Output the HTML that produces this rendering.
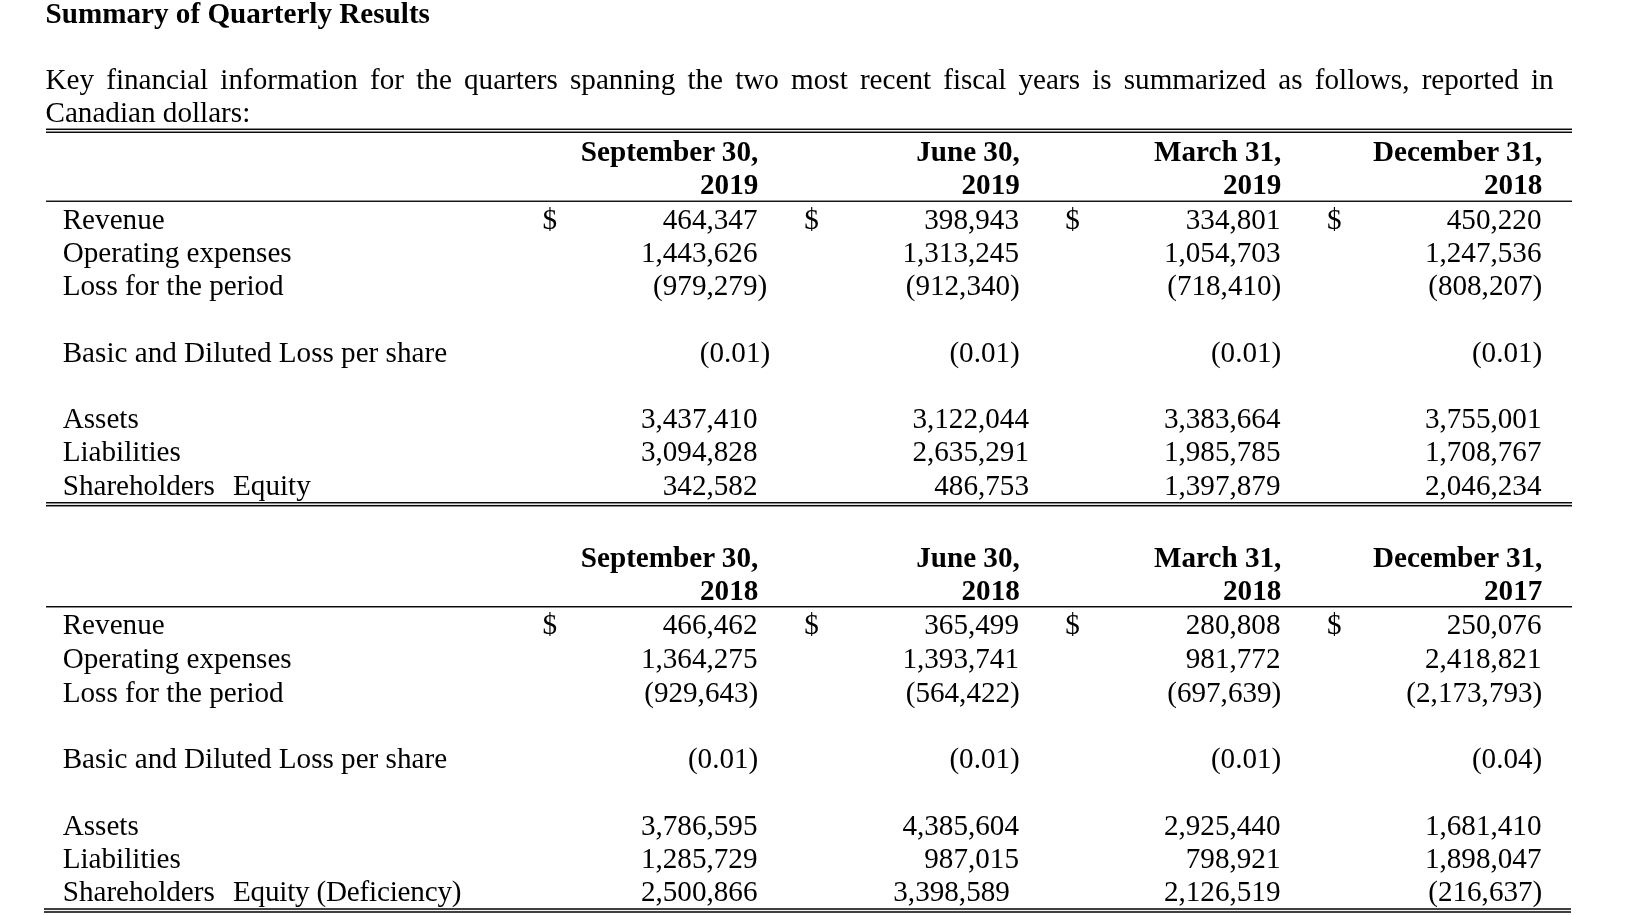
<!DOCTYPE html>
<html lang="en"><head><meta charset="utf-8"><title>Summary of Quarterly Results</title>
<style>
html,body{margin:0;padding:0;background:#fff;}
body{width:1627px;height:915px;position:relative;overflow:hidden;will-change:transform;font-family:"Liberation Serif",serif;color:#000;}
.t{position:absolute;font-size:29.15px;line-height:34px;height:34px;white-space:nowrap;}
.b{font-weight:bold;}
.j{white-space:normal;text-align:justify;text-align-last:justify;}
.ap{display:inline-block;width:18.2px;}
.cd{letter-spacing:-0.21px;}
.ln{position:absolute;height:1px;}
</style></head><body>
<!-- heading -->
<div class="t b" style="left:45.50px;top:-4px;">Summary of Quarterly Results</div>
<div class="t j" style="left:45.5px;top:62px;width:1508.10px">Key financial information for the quarters spanning the two most recent fiscal years is summarized as follows, reported in</div>
<div class="t" style="left:45.50px;top:95px;">Canadian dollars:</div>
<div class="ln" style="left:46.00px;top:128px;width:1525.50px;background:#8a8a8a"></div>
<div class="ln" style="left:46.00px;top:129px;width:1525.50px;background:#0a0a0a"></div>
<div class="ln" style="left:46.00px;top:130px;width:1525.50px;background:#eeeeee"></div>
<div class="ln" style="left:46.00px;top:131px;width:1525.50px;background:#8a8a8a"></div>
<div class="ln" style="left:46.00px;top:132px;width:1525.50px;background:#0a0a0a"></div>
<!-- 2019: header -->
<div class="t b" style="right:868.70px;top:134px;">September 30,</div>
<div class="t b" style="right:868.70px;top:167px;">2019</div>
<div class="t b" style="right:607.20px;top:134px;">June 30,</div>
<div class="t b" style="right:607.20px;top:167px;">2019</div>
<div class="t b" style="right:345.70px;top:134px;">March 31,</div>
<div class="t b" style="right:345.70px;top:167px;">2019</div>
<div class="t b" style="right:84.70px;top:134px;">December 31,</div>
<div class="t b" style="right:84.70px;top:167px;">2018</div>
<div class="ln" style="left:46.00px;top:200px;width:1525.50px;background:#909090"></div>
<div class="ln" style="left:46.00px;top:201px;width:1525.50px;background:#161616"></div>
<!-- 2019: Revenue -->
<div class="t" style="left:62.70px;top:202px;">Revenue</div>
<div class="t" style="left:542.60px;top:202px;">$</div>
<div class="t" style="left:804.30px;top:202px;">$</div>
<div class="t" style="left:1065.30px;top:202px;">$</div>
<div class="t" style="left:1326.90px;top:202px;">$</div>
<div class="t" style="right:869.50px;top:202px;">464,347</div>
<div class="t" style="right:608.00px;top:202px;">398,943</div>
<div class="t" style="right:346.50px;top:202px;">334,801</div>
<div class="t" style="right:85.50px;top:202px;">450,220</div>
<!-- 2019: Operating expenses -->
<div class="t" style="left:62.70px;top:235px;">Operating expenses</div>
<div class="t" style="right:869.50px;top:235px;">1,443,626</div>
<div class="t" style="right:608.00px;top:235px;">1,313,245</div>
<div class="t" style="right:346.50px;top:235px;">1,054,703</div>
<div class="t" style="right:85.50px;top:235px;">1,247,536</div>
<!-- 2019: Loss for the period -->
<div class="t" style="left:62.70px;top:268px;">Loss for the period</div>
<div class="t" style="right:859.80px;top:268px;">(979,279)</div>
<div class="t" style="right:607.20px;top:268px;">(912,340)</div>
<div class="t" style="right:345.70px;top:268px;">(718,410)</div>
<div class="t" style="right:84.70px;top:268px;">(808,207)</div>
<!-- 2019: Basic and Diluted Loss per share -->
<div class="t" style="left:62.70px;top:335px;">Basic and Diluted Loss per share</div>
<div class="t" style="right:856.80px;top:335px;">(0.01)</div>
<div class="t" style="right:607.20px;top:335px;">(0.01)</div>
<div class="t" style="right:345.70px;top:335px;">(0.01)</div>
<div class="t" style="right:84.70px;top:335px;">(0.01)</div>
<!-- 2019: Assets -->
<div class="t" style="left:62.70px;top:401px;">Assets</div>
<div class="t" style="right:869.50px;top:401px;">3,437,410</div>
<div class="t" style="right:598.00px;top:401px;">3,122,044</div>
<div class="t" style="right:346.50px;top:401px;">3,383,664</div>
<div class="t" style="right:85.50px;top:401px;">3,755,001</div>
<!-- 2019: Liabilities -->
<div class="t" style="left:62.70px;top:434px;">Liabilities</div>
<div class="t" style="right:869.50px;top:434px;">3,094,828</div>
<div class="t" style="right:598.00px;top:434px;">2,635,291</div>
<div class="t" style="right:346.50px;top:434px;">1,985,785</div>
<div class="t" style="right:85.50px;top:434px;">1,708,767</div>
<!-- 2019: Shareholders -->
<div class="t" style="left:62.70px;top:468px;">Shareholders<span class="ap"></span>Equity</div>
<div class="t" style="right:869.50px;top:468px;">342,582</div>
<div class="t" style="right:598.00px;top:468px;">486,753</div>
<div class="t" style="right:346.50px;top:468px;">1,397,879</div>
<div class="t" style="right:85.50px;top:468px;">2,046,234</div>
<div class="ln" style="left:46.00px;top:502px;width:1525.50px;background:#0a0a0a"></div>
<div class="ln" style="left:46.00px;top:503px;width:1525.50px;background:#8a8a8a"></div>
<div class="ln" style="left:46.00px;top:504px;width:1525.50px;background:#e8e8e8"></div>
<div class="ln" style="left:46.00px;top:505px;width:1525.50px;background:#0a0a0a"></div>
<div class="ln" style="left:46.00px;top:506px;width:1525.50px;background:#8a8a8a"></div>
<!-- 2018: header -->
<div class="t b" style="right:868.70px;top:540px;">September 30,</div>
<div class="t b" style="right:868.70px;top:573px;">2018</div>
<div class="t b" style="right:607.20px;top:540px;">June 30,</div>
<div class="t b" style="right:607.20px;top:573px;">2018</div>
<div class="t b" style="right:345.70px;top:540px;">March 31,</div>
<div class="t b" style="right:345.70px;top:573px;">2018</div>
<div class="t b" style="right:84.70px;top:540px;">December 31,</div>
<div class="t b" style="right:84.70px;top:573px;">2017</div>
<div class="ln" style="left:46.00px;top:606px;width:1525.50px;background:#0a0a0a"></div>
<div class="ln" style="left:46.00px;top:607px;width:1525.50px;background:#8a8a8a"></div>
<!-- 2018: Revenue -->
<div class="t" style="left:62.70px;top:607px;">Revenue</div>
<div class="t" style="left:542.60px;top:607px;">$</div>
<div class="t" style="left:804.30px;top:607px;">$</div>
<div class="t" style="left:1065.30px;top:607px;">$</div>
<div class="t" style="left:1326.90px;top:607px;">$</div>
<div class="t" style="right:869.50px;top:607px;">466,462</div>
<div class="t" style="right:608.00px;top:607px;">365,499</div>
<div class="t" style="right:346.50px;top:607px;">280,808</div>
<div class="t" style="right:85.50px;top:607px;">250,076</div>
<!-- 2018: Operating expenses -->
<div class="t" style="left:62.70px;top:641px;">Operating expenses</div>
<div class="t" style="right:869.50px;top:641px;">1,364,275</div>
<div class="t" style="right:608.00px;top:641px;">1,393,741</div>
<div class="t" style="right:346.50px;top:641px;">981,772</div>
<div class="t" style="right:85.50px;top:641px;">2,418,821</div>
<!-- 2018: Loss for the period -->
<div class="t" style="left:62.70px;top:675px;">Loss for the period</div>
<div class="t" style="right:868.70px;top:675px;">(929,643)</div>
<div class="t" style="right:607.20px;top:675px;">(564,422)</div>
<div class="t" style="right:345.70px;top:675px;">(697,639)</div>
<div class="t" style="right:84.70px;top:675px;">(2,173,793)</div>
<!-- 2018: Basic and Diluted Loss per share -->
<div class="t" style="left:62.70px;top:741px;">Basic and Diluted Loss per share</div>
<div class="t" style="right:868.70px;top:741px;">(0.01)</div>
<div class="t" style="right:607.20px;top:741px;">(0.01)</div>
<div class="t" style="right:345.70px;top:741px;">(0.01)</div>
<div class="t" style="right:84.70px;top:741px;">(0.04)</div>
<!-- 2018: Assets -->
<div class="t" style="left:62.70px;top:808px;">Assets</div>
<div class="t" style="right:869.50px;top:808px;">3,786,595</div>
<div class="t" style="right:608.00px;top:808px;">4,385,604</div>
<div class="t" style="right:346.50px;top:808px;">2,925,440</div>
<div class="t" style="right:85.50px;top:808px;">1,681,410</div>
<!-- 2018: Liabilities -->
<div class="t" style="left:62.70px;top:841px;">Liabilities</div>
<div class="t" style="right:869.50px;top:841px;">1,285,729</div>
<div class="t" style="right:608.00px;top:841px;">987,015</div>
<div class="t" style="right:346.50px;top:841px;">798,921</div>
<div class="t" style="right:85.50px;top:841px;">1,898,047</div>
<!-- 2018: Shareholders -->
<div class="t" style="left:62.70px;top:874px;">Shareholders<span class="ap"></span><span class="cd">Equity (Deficiency)</span></div>
<div class="t" style="right:869.50px;top:874px;">2,500,866</div>
<div class="t" style="right:617.15px;top:874px;">3,398,589</div>
<div class="t" style="right:346.50px;top:874px;">2,126,519</div>
<div class="t" style="right:84.70px;top:874px;">(216,637)</div>
<div class="ln" style="left:44.20px;top:908px;width:1527.30px;background:#404040"></div>
<div class="ln" style="left:44.20px;top:909px;width:1527.30px;background:#404040"></div>
<div class="ln" style="left:44.20px;top:910px;width:1527.30px;background:#f2f2f2"></div>
<div class="ln" style="left:44.20px;top:911px;width:1527.30px;background:#404040"></div>
<div class="ln" style="left:44.20px;top:912px;width:1527.30px;background:#404040"></div>
</body></html>
